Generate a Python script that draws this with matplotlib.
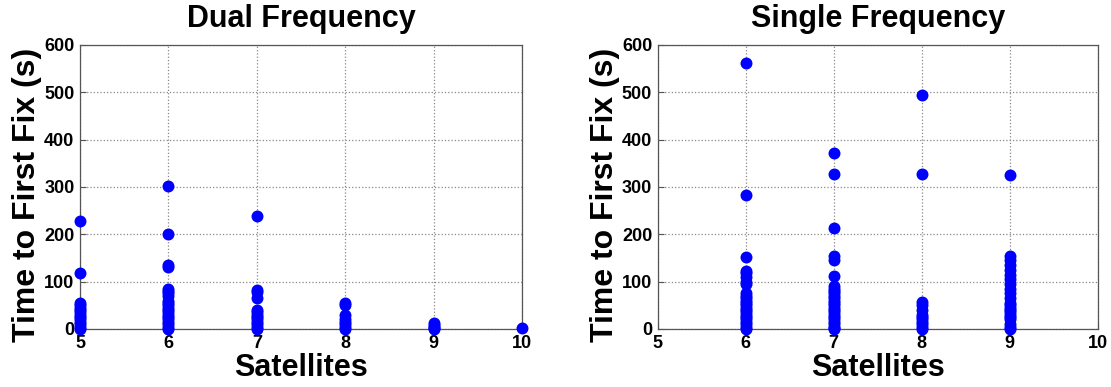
import matplotlib
matplotlib.use("Agg")
import matplotlib.pyplot as plt

# Time to first fix (s) for each satellite count
dual_sats = [5] * 14 + [6] * 21 + [7] * 13 + [8] * 8 + [9] * 5 + [10]
dual_ttff = [227, 118, 55, 50, 45, 40, 35, 30, 25, 20, 15, 10, 5, 0,
             302, 200, 135, 130, 85, 80, 75, 70, 60, 55, 50, 45, 40, 35, 30, 25, 20, 15, 10, 5, 0,
             238, 83, 78, 65, 40, 35, 30, 25, 20, 15, 10, 5, 0,
             55, 50, 30, 20, 15, 10, 5, 0,
             12, 8, 5, 2, 0,
             3]

single_sats = [6] * 24 + [7] * 26 + [8] * 12 + [9] * 22
single_ttff = [562, 283, 153, 123, 118, 110, 100, 95, 75, 70, 65, 60, 55, 50, 45, 40, 35, 30, 25, 20, 15, 10, 5, 0,
               372, 328, 213, 155, 145, 112, 90, 85, 80, 75, 70, 65, 60, 55, 50, 45, 40, 35, 30, 25, 20, 15, 10, 5, 2, 0,
               495, 328, 57, 50, 40, 30, 25, 20, 15, 10, 5, 0,
               325, 155, 145, 135, 125, 115, 105, 95, 85, 75, 65, 55, 50, 45, 40, 35, 30, 25, 20, 10, 5, 0]

titles = ["Dual Frequency", "Single Frequency"]
x_ticks = [5, 6, 7, 8, 9, 10]
y_ticks = [0, 100, 200, 300, 400, 500, 600]

plt.rcParams["font.family"] = ["Liberation Sans", "DejaVu Sans"]
plt.rcParams["font.weight"] = "bold"

fig = plt.figure(figsize=(11.11, 3.87), dpi=100)
ax_left = fig.add_axes([0.072, 0.150, 0.398, 0.734])
ax_right = fig.add_axes([0.592, 0.150, 0.396, 0.734])

for ax, xs, ys, title in [(ax_left, dual_sats, dual_ttff, titles[0]),
                          (ax_right, single_sats, single_ttff, titles[1])]:
    ax.plot(xs, ys, "o", color="#0000ff", markersize=8.6, markeredgewidth=0,
            clip_on=False, zorder=3)
    ax.set_xlim(5, 10)
    ax.set_ylim(0, 600)
    ax.set_xticks(x_ticks)
    ax.set_yticks(y_ticks)
    ax.grid(True, linestyle=":", color="#888888", linewidth=0.9)
    ax.tick_params(direction="in", length=4, labelsize=13, color="#555555")
    ax.tick_params(axis="x", pad=4)
    ax.tick_params(axis="y", pad=4)
    for lbl in ax.get_xticklabels() + ax.get_yticklabels():
        lbl.set_fontweight("bold")
    for sp in ax.spines.values():
        sp.set_color("#555555")
        sp.set_linewidth(0.9)
    ax.set_title(title, fontsize=22, fontweight="bold", pad=13)
    ax.set_xlabel("Satellites", fontsize=22, fontweight="bold")
    ax.xaxis.set_label_coords(0.5, -0.083)
    ax.set_ylabel("Time to First Fix (s)", fontsize=23, fontweight="bold")
    ax.yaxis.set_label_coords(-0.086, 0.472)

fig.savefig("out.png", dpi=100)
